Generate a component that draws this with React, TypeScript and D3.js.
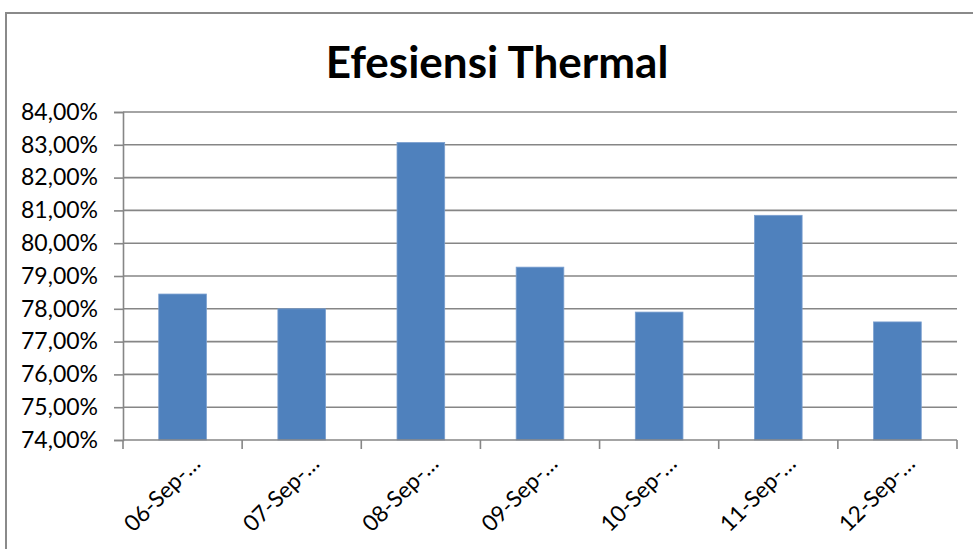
import React, { useEffect, useRef } from 'react';
import * as d3 from 'd3';

// data
const categories = ['06-Sep-…', '07-Sep-…', '08-Sep-…', '09-Sep-…', '10-Sep-…', '11-Sep-…', '12-Sep-…'];
const efficiency = [78.45, 78.0, 83.07, 79.27, 77.9, 80.85, 77.6];
const yTicks = [74, 75, 76, 77, 78, 79, 80, 81, 82, 83, 84];

const W = 973;
const H = 549;
const FONT = "Lato, 'Open Sans', sans-serif";

const App: React.FC = () => {
  const svgRef = useRef<SVGSVGElement>(null);

  useEffect(() => {
    if (!svgRef.current) return;
    const svg = d3.select(svgRef.current);
    svg.selectAll('*').remove();

    const left = 123, right = 957, top = 112, bottom = 440;
    const gridColor = '#868686';

    // outer chart frame (runs off the page at right and bottom)
    svg.append('rect')
      .attr('x', 6).attr('y', 13)
      .attr('width', W + 20).attr('height', H + 20)
      .attr('fill', 'white')
      .attr('stroke', '#8a8a8a')
      .attr('stroke-width', 2);

    svg.append('text')
      .attr('x', 497).attr('y', 78)
      .attr('text-anchor', 'middle')
      .style('font-family', FONT)
      .style('font-weight', 'bold')
      .style('font-size', '44px')
      .attr('fill', '#000')
      .text('Efesiensi Thermal');

    const x = d3.scaleBand<string>().domain(categories).range([left, right]).paddingInner(0.6).paddingOuter(0.3);
    const xb = d3.scaleBand<string>().domain(categories).range([left, right]);
    const y = d3.scaleLinear().domain([74, 84]).range([bottom, top]);

    // gridlines
    svg.append('g')
      .selectAll('line')
      .data(yTicks.slice(1))
      .join('line')
      .attr('x1', left).attr('x2', right)
      .attr('y1', d => y(d)).attr('y2', d => y(d))
      .attr('stroke', gridColor)
      .attr('stroke-width', 1.6);

    // bars
    svg.append('g')
      .selectAll('rect')
      .data(efficiency)
      .join('rect')
      .attr('x', (_, i) => x(categories[i])!)
      .attr('width', x.bandwidth())
      .attr('y', d => y(d))
      .attr('height', d => bottom - y(d))
      .attr('fill', '#4f81bd')
      .attr('stroke', '#7a9fcf')
      .attr('stroke-width', 0.8);

    // y axis
    const yAxis = svg.append('g').attr('transform', `translate(${left},0)`)
      .call(d3.axisLeft(y).tickValues(yTicks).tickSize(9).tickPadding(16)
        .tickFormat(d => (d as number).toFixed(2).replace('.', ',') + '%'));
    yAxis.select('.domain').attr('stroke', gridColor).attr('stroke-width', 1.6);
    yAxis.selectAll('.tick line').attr('stroke', gridColor).attr('stroke-width', 1.6);
    yAxis.selectAll('.tick text')
      .style('font-family', FONT)
      .style('font-size', '23px')
      .attr('fill', '#000');

    // x axis
    const xg = svg.append('g').attr('transform', `translate(0,${bottom})`);
    xg.append('line')
      .attr('x1', left).attr('x2', right)
      .attr('stroke', gridColor).attr('stroke-width', 1.6);
    const edges = categories.map(c => xb(c)!).concat([right]);
    xg.selectAll('line.tk')
      .data(edges)
      .join('line')
      .attr('class', 'tk')
      .attr('x1', d => d).attr('x2', d => d)
      .attr('y1', 0).attr('y2', 9)
      .attr('stroke', gridColor).attr('stroke-width', 1.6);
    xg.selectAll('text')
      .data(categories)
      .join('text')
      .attr('transform', d => `translate(${xb(d)! + xb.bandwidth() / 2 + 19},${25}) rotate(-45)`)
      .attr('text-anchor', 'end')
      .style('font-family', FONT)
      .style('font-size', '22.5px')
      .attr('fill', '#000')
      .text(d => d);
  }, []);

  return (
    <svg
      ref={svgRef}
      width={W}
      height={H}
      style={{ position: 'absolute', left: 0, top: 0, background: 'white', display: 'block' }}
    />
  );
};

export default App;
